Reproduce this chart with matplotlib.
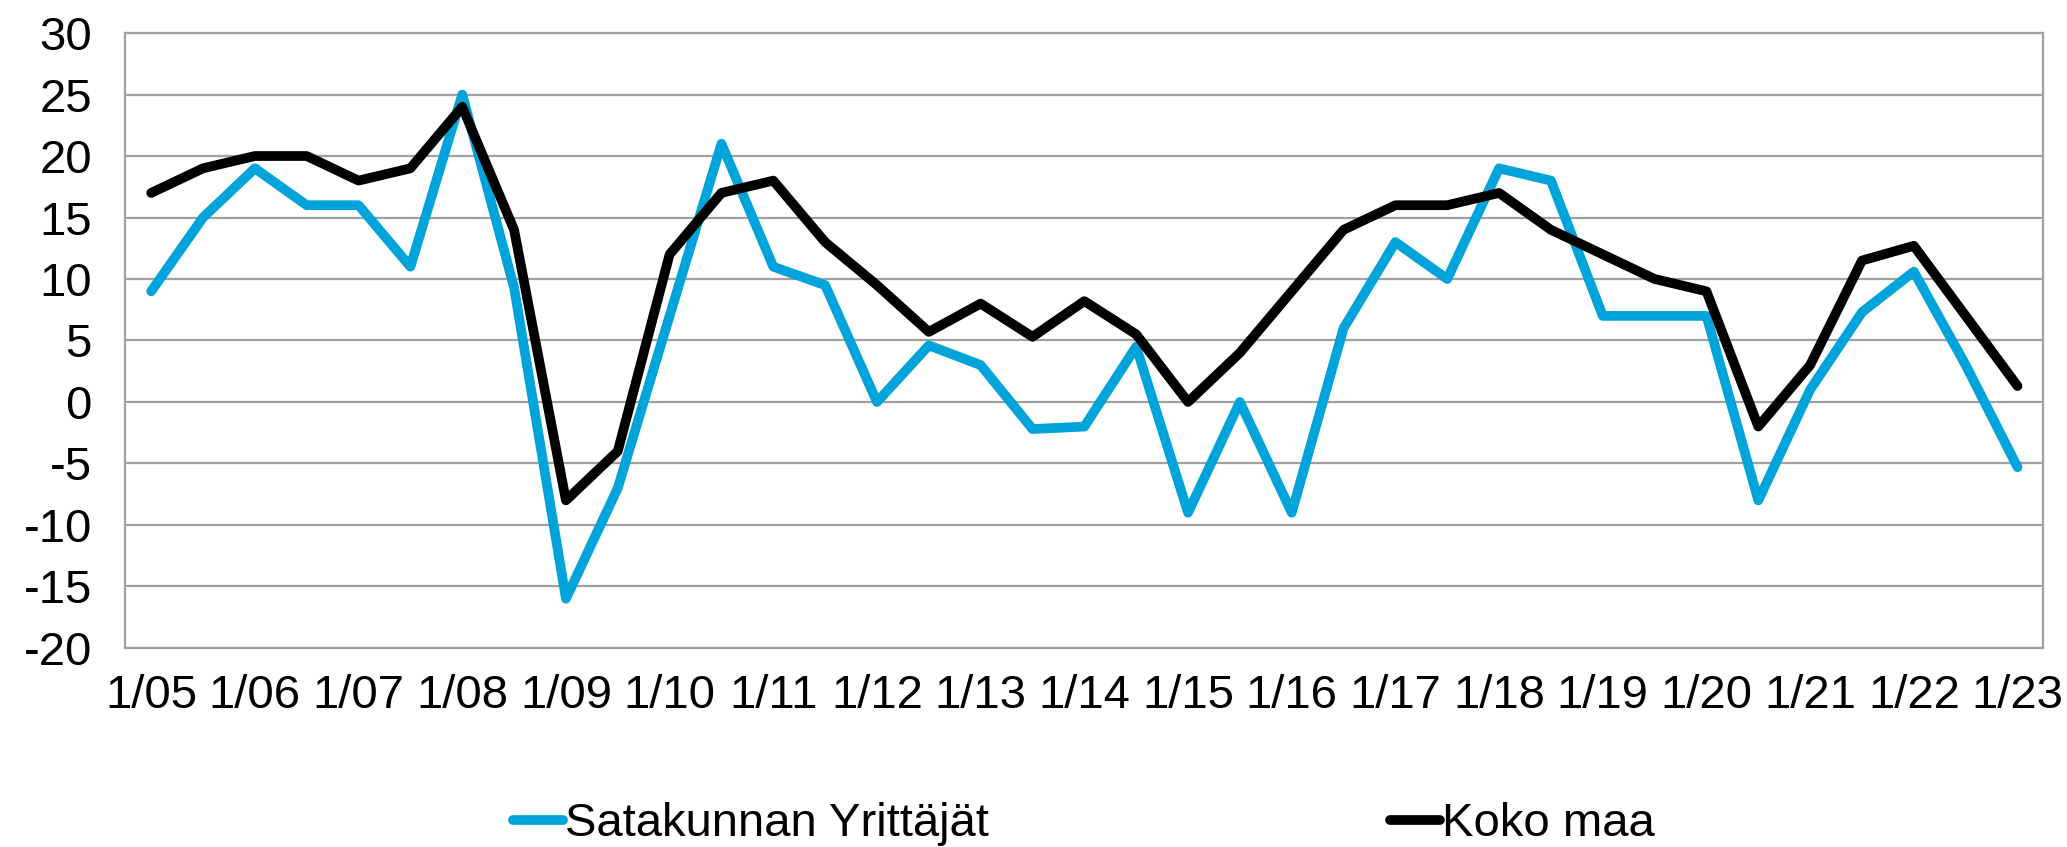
import numpy as np
import matplotlib
matplotlib.use("Agg")
import matplotlib.pyplot as plt

# data (half-year points, 1/05 .. 1/23)
tick_labels = ["1/05", "1/06", "1/07", "1/08", "1/09", "1/10", "1/11", "1/12", "1/13",
               "1/14", "1/15", "1/16", "1/17", "1/18", "1/19", "1/20", "1/21", "1/22", "1/23"]
satakunta = [9, 15, 19, 16, 16, 11, 25, 9.3, -16, -7, 7, 21, 11, 9.5, 0, 4.6, 3, -2.2, -2,
             4.5, -9, 0, -9, 6, 13, 10, 19, 18, 7, 7, 7, -8, 1, 7.3, 10.6, 3, -5.3]
koko_maa = [17, 19, 20, 20, 18, 19, 24, 14, -8, -4, 12, 17, 18, 13, 9.5, 5.7, 8, 5.3, 8.2,
            5.5, 0, 4, 9, 14, 16, 16, 17, 14, 12, 10, 9, -2, 3, 11.5, 12.7, 7, 1.3]
series_names = ["Satakunnan Yrittäjät", "Koko maa"]

plt.rcParams['font.family'] = ['Liberation Sans', 'DejaVu Sans']
plt.rcParams['axes.unicode_minus'] = False

fig = plt.figure(figsize=(20.67, 8.47), dpi=100)
ax = fig.add_axes([0.0606, 0.235, 0.928, 0.726])

x = np.arange(len(satakunta))
ax.plot(x, satakunta, color="#00A3DA", lw=7, solid_joinstyle="round",
        solid_capstyle="round", label=series_names[0], zorder=3)
ax.plot(x, koko_maa, color="black", lw=7, solid_joinstyle="round",
        solid_capstyle="round", label=series_names[1], zorder=4)

ax.set_xlim(-0.5, len(x) - 0.5)
ax.set_ylim(-20, 30)
ax.set_yticks(np.arange(-20, 31, 5))
ax.set_xticks(x[::2])
ax.set_xticklabels(tick_labels)
ax.tick_params(axis="both", length=0, labelsize=34)
ax.tick_params(axis="y", pad=24)
ax.tick_params(axis="x", pad=19)

ax.grid(axis="y", color="#A0A0A0", lw=1.6)
ax.set_axisbelow(True)
for s in ax.spines.values():
    s.set_color("#A0A0A0")
    s.set_linewidth(1.6)

fig.legend(loc="center", bbox_to_anchor=(0.5245, 0.027), ncol=2, frameon=False,
           fontsize=34, handlelength=1.05, handletextpad=0.05, columnspacing=8.5,
           borderpad=0, borderaxespad=0)

fig.savefig("out.png", dpi=100)
